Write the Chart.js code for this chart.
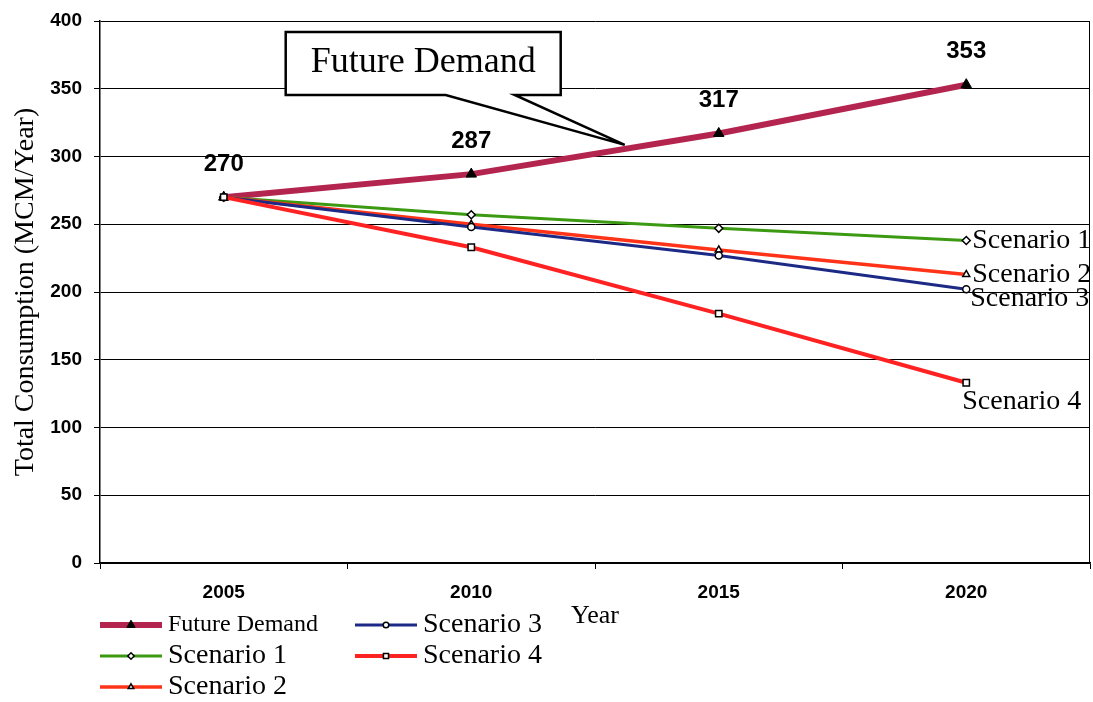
<!DOCTYPE html>
<html>
<head>
<meta charset="utf-8">
<script src="https://cdn.jsdelivr.net/npm/chart.js@4/dist/chart.umd.min.js"></script>
<style>
  html, body { margin: 0; padding: 0; background: #fff; overflow: hidden; }
  canvas { display: block; }
</style>
</head>
<body>
<canvas id="myLineChart" width="1093" height="702"></canvas>
<script>
const years = ['2005', '2010', '2015', '2020'];
const futureDemand = [270, 287, 317, 353];
const scenario1 = [270, 257, 247, 238];
const scenario2 = [270, 250, 231, 213];
const scenario3 = [270, 248, 227, 202];
const scenario4 = [270, 233, 184, 133];
const yMin = 0;
const yMax = 400;
const yStep = 50;

const serif = '"Liberation Serif", "DejaVu Serif", serif';
const sans = '"Liberation Sans", Arial, sans-serif';

const data = {
    labels: years,
    datasets: [
        { label: 'Scenario 4', data: scenario4, borderColor: '#ff2222', borderWidth: 4,
          pointStyle: 'rect', pointRadius: 4.5, pointBackgroundColor: '#fff', pointBorderColor: '#000', pointBorderWidth: 1.5,
          endLabel: { dx: -4, dy: 19 } },
        { label: 'Scenario 3', data: scenario3, borderColor: '#1c2a86', borderWidth: 3,
          pointStyle: 'circle', pointRadius: 3.5, pointBackgroundColor: '#fff', pointBorderColor: '#000', pointBorderWidth: 1.5,
          endLabel: { dx: 4, dy: 9 } },
        { label: 'Scenario 2', data: scenario2, borderColor: '#ff3318', borderWidth: 3.5,
          pointStyle: 'triangle', pointRadius: 4, pointBackgroundColor: '#fff', pointBorderColor: '#000', pointBorderWidth: 1.5,
          endLabel: { dx: 6, dy: 0 } },
        { label: 'Scenario 1', data: scenario1, borderColor: '#3c9a12', borderWidth: 3,
          pointStyle: 'rectRot', pointRadius: 4, pointBackgroundColor: '#fff', pointBorderColor: '#000', pointBorderWidth: 1.5,
          endLabel: { dx: 6, dy: 0 } },
        { label: 'Future Demand', data: futureDemand, borderColor: '#b3244e', borderWidth: 6,
          pointStyle: 'triangle', pointRadius: 6, pointBackgroundColor: '#000', pointBorderColor: '#000', pointBorderWidth: 1,
          valueLabels: true }
    ]
};

// legend order as in the picture: two columns, filled top to bottom
const legendOrder = ['Future Demand', 'Scenario 1', 'Scenario 2', 'Scenario 3', 'Scenario 4'];

const extras = {
    id: 'extras',
    afterDatasetsDraw(chart) {
        const { ctx, chartArea: area, scales: { x, y } } = chart;
        ctx.save();

        // right frame line
        ctx.strokeStyle = '#000';
        ctx.lineWidth = 1;
        ctx.beginPath();
        ctx.moveTo(area.right - 0.5, area.top);
        ctx.lineTo(area.right - 0.5, area.bottom);
        ctx.stroke();

        chart.data.datasets.forEach((ds) => {
            const last = ds.data.length - 1;
            if (ds.valueLabels) {
                ctx.font = 'bold 24px ' + sans;
                ctx.fillStyle = '#000';
                ctx.textAlign = 'center';
                ctx.textBaseline = 'middle';
                ds.data.forEach((v, i) => {
                    ctx.fillText(String(v), x.getPixelForValue(i), y.getPixelForValue(v) - 33);
                });
            }
            if (ds.endLabel) {
                ctx.font = '28px ' + serif;
                ctx.fillStyle = '#000';
                ctx.textAlign = 'left';
                ctx.textBaseline = 'middle';
                ctx.fillText(ds.label, x.getPixelForValue(last) + ds.endLabel.dx,
                    y.getPixelForValue(ds.data[last]) + ds.endLabel.dy);
            }
        });

        // callout pointing at the Future Demand line
        const x1 = x.getPixelForValue(1), x2 = x.getPixelForValue(2);
        const tx = x1 + 0.62 * (x2 - x1);
        const ty = y.getPixelForValue(futureDemand[1] + 0.62 * (futureDemand[2] - futureDemand[1])) - 4;
        const bl = tx - 339, br = tx - 64, bt = area.top + 11, bb = area.top + 74;
        ctx.lineJoin = 'miter';
        ctx.fillStyle = '#fff';
        ctx.strokeStyle = '#000';
        ctx.lineWidth = 2.5;
        ctx.beginPath();
        ctx.moveTo(bl, bt);
        ctx.lineTo(br, bt);
        ctx.lineTo(br, bb);
        ctx.lineTo(tx - 110, bb);
        ctx.lineTo(tx, ty);
        ctx.lineTo(tx - 179, bb);
        ctx.lineTo(bl, bb);
        ctx.closePath();
        ctx.fill();
        ctx.stroke();
        ctx.font = '36px ' + serif;
        ctx.fillStyle = '#000';
        ctx.textAlign = 'center';
        ctx.textBaseline = 'middle';
        ctx.fillText('Future Demand', (bl + br) / 2, (bt + bb) / 2 - 1);

        // legend
        const cols = [area.left, area.left + 255];
        const rowY = [area.bottom + 62, area.bottom + 93, area.bottom + 124];
        legendOrder.forEach((name, k) => {
            const ds = chart.data.datasets.find(d => d.label === name);
            const col = Math.floor(k / 3), row = k % 3;
            const lx = cols[col], ly = rowY[row];
            ctx.strokeStyle = ds.borderColor;
            ctx.lineWidth = ds.borderWidth;
            ctx.beginPath();
            ctx.moveTo(lx, ly);
            ctx.lineTo(lx + 62, ly);
            ctx.stroke();
            ctx.fillStyle = ds.pointBackgroundColor;
            ctx.strokeStyle = ds.pointBorderColor;
            ctx.lineWidth = ds.pointBorderWidth;
            Chart.helpers.drawPoint(ctx, {
                pointStyle: ds.pointStyle, radius: ds.pointRadius * 0.8, rotation: 0, borderWidth: ds.pointBorderWidth
            }, lx + 31, ly);
            ctx.font = (name === 'Future Demand' ? '24px ' : '28px ') + serif;
            ctx.fillStyle = '#000';
            ctx.textAlign = 'left';
            ctx.textBaseline = 'middle';
            ctx.fillText(name, lx + 68, ly);
        });

        ctx.restore();
    }
};

const config = {
    type: 'line',
    data: data,
    options: {
        responsive: false,
        animation: false,
        devicePixelRatio: 1,
        layout: { autoPadding: false, padding: { top: 21, right: 3, left: 0, bottom: 0 } },
        plugins: { legend: { display: false }, tooltip: { enabled: false } },
        elements: { line: { tension: 0 } },
        scales: {
            x: {
                type: 'category',
                offset: true,
                grid: { offset: true, drawOnChartArea: false, drawTicks: true, tickLength: 6, color: '#000' },
                border: { color: '#000', width: 1.5 },
                ticks: { color: '#000', font: { family: sans, size: 19, weight: 'bold' }, padding: 12, maxRotation: 0 },
                title: { display: true, text: 'Year', color: '#000', font: { family: serif, size: 26 }, padding: { top: 0, bottom: 70 } },
                afterFit: (s) => { s.height = 139; s.paddingLeft = 0; s.paddingRight = 0; }
            },
            y: {
                min: yMin,
                max: yMax,
                grid: { color: '#000', lineWidth: 1, drawTicks: true, tickLength: 6 },
                border: { color: '#000', width: 1.5 },
                ticks: { stepSize: yStep, color: '#000', font: { family: sans, size: 19, weight: 'bold' }, padding: 12 },
                title: { display: true, text: 'Total Consumption (MCM/Year)', color: '#000', font: { family: serif, size: 28 }, padding: { top: 9, bottom: 0 } },
                afterFit: (s) => { s.width = 100; s.paddingTop = 0; s.paddingBottom = 0; }
            }
        }
    },
    plugins: [extras]
};

// eslint-disable-next-line
const lineChart = new Chart(document.querySelector('#myLineChart'), config);
</script>
</body>
</html>
